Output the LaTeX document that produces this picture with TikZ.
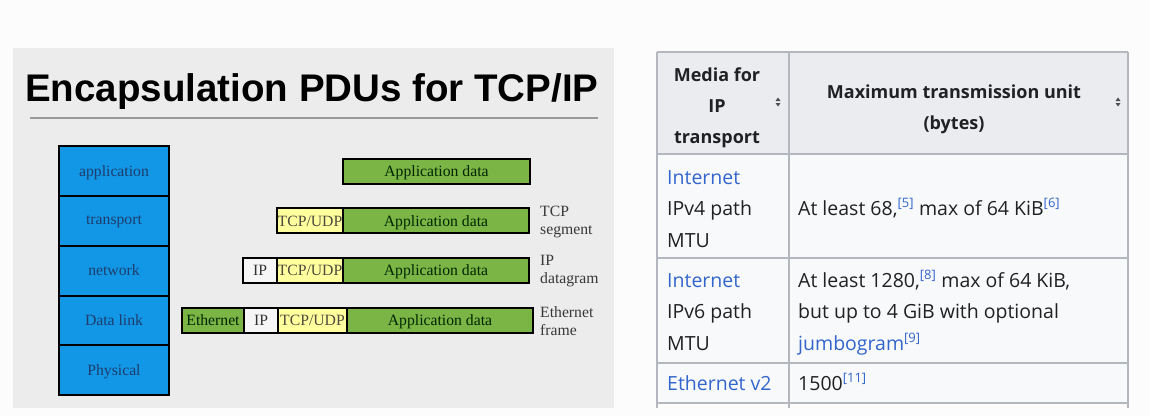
\documentclass[tikz,border=0pt]{standalone}
\usepackage{fontspec}
\setmainfont{Liberation Serif}
\newfontfamily\titlefont{Liberation Sans}
\newfontfamily\wikifont{Open Sans}
\definecolor{pagebg}{HTML}{FCFCFC}
\definecolor{panelgray}{HTML}{ECECEC}
\definecolor{layerblue}{HTML}{1297E6}
\definecolor{layertext}{HTML}{1E3C6B}
\definecolor{appgreen}{HTML}{7AB545}
\definecolor{hdryellow}{HTML}{FFFF9E}
\definecolor{ipwhite}{HTML}{F6F6F6}
\definecolor{tborder}{HTML}{B4B8BE}
\definecolor{thead}{HTML}{EAECF0}
\definecolor{tbody}{HTML}{F8F9FA}
\definecolor{wikilink}{HTML}{3366CC}
\definecolor{wikitext}{HTML}{202122}
\definecolor{lbltext}{HTML}{383838}
\tikzset{
  layerbox/.style={draw=black, line width=2pt, fill=layerblue, minimum width=110pt,
    minimum height=50pt, inner sep=0pt, text=layertext, text depth=0pt,
    font=\fontsize{15.7}{18}\selectfont},
  pkt/.style={draw=black, line width=2pt, minimum height=25pt, inner sep=0pt,
    text depth=0pt, text height=11pt,
    anchor=west, font=\fontsize{15.7}{18}\selectfont},
  appbox/.style={pkt, fill=appgreen, text=black!85!green},
  tcpbox/.style={pkt, fill=hdryellow, text=black!80!yellow},
  ipbox/.style={pkt, fill=ipwhite, text=black!80},
  ethbox/.style={pkt, fill=appgreen, text=black!85!green},
  pdulabel/.style={anchor=west, align=left, inner sep=0pt, text=lbltext,
    font=\fontsize{15.7}{18.5}\selectfont},
  headtxt/.style={inner sep=0pt, align=center, text=wikitext,
    font=\wikifont\bfseries\fontsize{18}{31}\selectfont},
  celltxt/.style={inner sep=0pt, anchor=base west, align=left, text=wikitext,
    font=\wikifont\fontsize{19.5}{31.5}\selectfont},
  sorticon/.style={fill=wikitext!80},
}
\newcommand{\refsup}[1]{\textsuperscript{\color{wikilink}\fontsize{13}{13}\selectfont[#1]}}
\begin{document}
\begin{tikzpicture}[x=1pt,y=-1pt]
\useasboundingbox (0,0) rectangle (1150,416);
\fill[pagebg] (0,0) rectangle (1150,416);
% left panel
\fill[panelgray] (13,48) rectangle (614,408);
\node[anchor=base west, inner sep=0pt, font=\titlefont\bfseries\fontsize{38.5}{40}\selectfont]
  (title) at (25,101) {Encapsulation PDUs for TCP/IP};
\draw[gray!80, line width=1.2pt] (30,118) -- (598,118);
% layer stack
\node[layerbox] (L1) at (114,171) {application};
\node[layerbox] (L2) at (114,220.5) {transport};
\node[layerbox] (L3) at (114,270.5) {network};
\node[layerbox] (L4) at (114,320.5) {Data link};
\node[layerbox] (L5) at (114,370) {Physical};
% row 1
\node[appbox, minimum width=187pt] (A1) at (342,171) {Application data};
% row 2
\node[tcpbox, minimum width=66pt] (T2) at (276,220.5) {TCP/UDP};
\node[appbox, minimum width=186pt] (A2) at (342,220.5) {Application data};
\node[pdulabel] (seg) at (540,222) {TCP\\segment};
% row 3
\node[ipbox, minimum width=34pt] (I3) at (242,270) {IP};
\node[tcpbox, minimum width=66pt] (T3) at (276,270) {TCP/UDP};
\node[appbox, minimum width=186pt] (A3) at (342,270) {Application data};
\node[pdulabel] (dgr) at (540,271) {IP\\datagram};
% row 4
\node[ethbox, minimum width=62pt] (E4) at (181,320) {Ethernet};
\node[ipbox, minimum width=34pt] (I4) at (243,320) {IP};
\node[tcpbox, minimum width=69pt] (T4) at (277,320) {TCP/UDP};
\node[appbox, minimum width=186pt] (A4) at (346,320) {Application data};
\node[pdulabel] (frm) at (540,321) {Ethernet\\frame};
% table
\fill[thead] (657,52) rectangle (1128,154);
\fill[tbody] (657,154) rectangle (1128,403);
\draw[tborder, line width=1.3pt] (657,52) -- (1128,52);
\foreach \yy in {154,258,363,403} \draw[tborder, line width=1.3pt] (657,\yy) -- (1128,\yy);
\foreach \xx in {657,789,1128} \draw[tborder, line width=1.3pt] (\xx,52) -- (\xx,408);
\node[headtxt] (h1) at (717,108) {Media for\\IP\\transport};
\node[headtxt] (h2) at (954,109) {Maximum transmission unit\\(bytes)};
\fill[sorticon] (775.5,101) -- (778,97.5) -- (780.5,101) -- cycle;
\fill[sorticon] (775.5,103) -- (778,106.5) -- (780.5,103) -- cycle;
\fill[sorticon] (1115.5,101) -- (1118,97.5) -- (1120.5,101) -- cycle;
\fill[sorticon] (1115.5,103) -- (1118,106.5) -- (1120.5,103) -- cycle;
\node[celltxt] (c11) at (667,247) {\textcolor{wikilink}{Internet}\\IPv4 path\\MTU};
\node[celltxt] (c12) at (798,215) {At least 68,\refsup{5} max of 64 KiB\refsup{6}};
\node[celltxt] (c21) at (667,350) {\textcolor{wikilink}{Internet}\\IPv6 path\\MTU};
\node[celltxt] (c22) at (798,350) {At least 1280,\refsup{8} max of 64 KiB,\\but up to 4 GiB with optional\\\textcolor{wikilink}{jumbogram}\refsup{9}};
\node[celltxt] (c31) at (667,390) {\textcolor{wikilink}{Ethernet v2}};
\node[celltxt] (c32) at (798,390) {1500\refsup{11}};
\end{tikzpicture}
\end{document}
